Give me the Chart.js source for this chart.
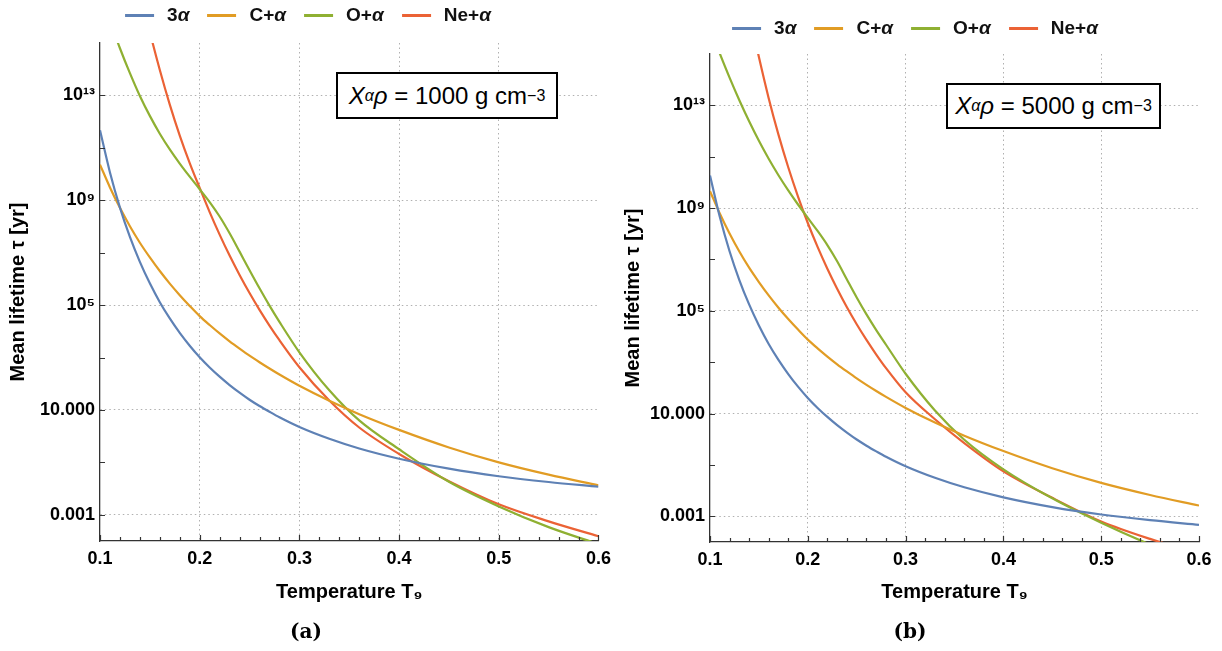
<!DOCTYPE html>
<html>
<head>
<meta charset="utf-8">
<title>Mean lifetime vs temperature</title>
<script src="https://cdn.jsdelivr.net/npm/chart.js@4.4.1/dist/chart.umd.min.js"></script>
<style>
  html, body { margin: 0; padding: 0; background: #fff; }
  body {
    width: 1222px; height: 651px; position: relative; overflow: hidden;
    font-family: "Liberation Sans", Arial, "DejaVu Sans", sans-serif;
  }
  .panel { position: absolute; top: 0; height: 651px; }
  .legend {
    position: absolute; display: flex; align-items: center; gap: 18px;
    font-weight: bold; font-size: 19px; color: #111; white-space: nowrap;
    transform: translate(-50%, -50%);
  }
  .legend .item { display: flex; align-items: center; }
  .legend .swatch { display: inline-block; width: 29px; height: 3px; margin-right: 13px; }
  .note {
    position: absolute; border: 2px solid #000; background: #fff; box-sizing: border-box;
    font-size: 24px; color: #000; display: flex; align-items: center; justify-content: center;
    white-space: nowrap;
  }
  .note sub { font-size: 16px; vertical-align: -5px; }
  .note sup { font-size: 16px; vertical-align: 9px; }
</style>
</head>
<body>
<div class="panel" style="left:0; width:618px"><canvas id="chartA"></canvas></div>
<div class="panel" style="left:611px; width:611px"><canvas id="chartB"></canvas></div>
<div class="legend" id="legendA" style="left:308px; top:15px"></div>
<div class="legend" id="legendB" style="left:915px; top:28px"></div>
<div class="note" id="noteA" style="left:336px; top:72px; width:222px; height:47px"></div>
<div class="note" id="noteB" style="left:946px; top:83px; width:215px; height:46px"></div>

<script>
// 温度 T9
const temps = [0.10, 0.11, 0.12, 0.13, 0.14, 0.15, 0.16, 0.17, 0.18, 0.19, 0.20,
               0.21, 0.22, 0.23, 0.24, 0.25, 0.26, 0.27, 0.28,
               0.30, 0.33, 0.36, 0.40, 0.45, 0.50, 0.55, 0.60];

const seriesNames = ['3α', 'C+α', 'O+α', 'Ne+α'];
const seriesColors = ['#5e81b5', '#e19c24', '#8fb032', '#eb6235'];

// log10(tau / yr), panel (a): X_alpha rho = 1000 g cm^-3
const tauA3a  = [11.67, 10.06, 8.72, 7.60, 6.65, 5.83, 5.11, 4.49, 3.94, 3.45, 3.01,
                 2.62, 2.27, 1.95, 1.66, 1.39, 1.15, 0.93, 0.72,
                 0.35, -0.10, -0.47, -0.86, -1.24, -1.53, -1.75, -1.93];
const tauACa  = [10.36, 9.49, 8.71, 8.01, 7.38, 6.82, 6.30, 5.82, 5.38, 4.97, 4.58,
                 4.24, 3.92, 3.62, 3.34, 3.07, 2.82, 2.58, 2.35,
                 1.92, 1.35, 0.84, 0.24, -0.43, -1.00, -1.47, -1.88];
const tauAOa  = [17.0, 15.85, 14.80, 13.85, 12.98, 12.22, 11.54, 10.94, 10.40, 9.90, 9.42,
                 8.93, 8.38, 7.74, 7.04, 6.33, 5.64, 4.98, 4.36,
                 3.20, 1.75, 0.60, -0.50, -1.74, -2.68, -3.47, -4.12];
const tauANea = [null, null, null, null, 17.0, 15.42, 13.97, 12.65, 11.47, 10.42, 9.47,
                 8.55, 7.69, 6.89, 6.15, 5.46, 4.82, 4.22, 3.66,
                 2.63, 1.36, 0.33, -0.68, -1.72, -2.60, -3.25, -3.82];

// log10(tau / yr), panel (b): X_alpha rho = 5000 g cm^-3
const tauB3a  = [10.27, 8.66, 7.32, 6.20, 5.25, 4.43, 3.71, 3.09, 2.54, 2.05, 1.61,
                 1.22, 0.87, 0.55, 0.26, -0.01, -0.25, -0.47, -0.68,
                 -1.05, -1.50, -1.87, -2.26, -2.64, -2.93, -3.15, -3.33];
const tauBCa  = [9.66, 8.79, 8.01, 7.31, 6.68, 6.12, 5.60, 5.12, 4.68, 4.27, 3.88,
                 3.54, 3.22, 2.92, 2.64, 2.37, 2.12, 1.88, 1.65,
                 1.22, 0.65, 0.14, -0.46, -1.13, -1.70, -2.17, -2.58];
const tauBOa  = [16.0, 15.02, 14.08, 13.20, 12.38, 11.62, 10.92, 10.28, 9.69, 9.14, 8.62,
                 8.11, 7.56, 6.93, 6.22, 5.52, 4.86, 4.25, 3.68,
                 2.55, 1.12, -0.02, -1.17, -2.30, -3.25, -4.10, -4.85];
const tauBNea = [null, null, null, null, 16.6, 14.88, 13.28, 11.86, 10.59, 9.45, 8.42,
                 7.49, 6.64, 5.86, 5.14, 4.48, 3.87, 3.30, 2.77,
                 1.83, 0.78, -0.15, -1.25, -2.28, -3.20, -3.88, -4.45];

const xTicks = [0.1, 0.2, 0.3, 0.4, 0.5, 0.6];
const xTickLabels = ['0.1', '0.2', '0.3', '0.4', '0.5', '0.6'];
const yTicks = [1e-3, 1e1, 1e5, 1e9, 1e13];
const yTickLabels = ['0.001', '10.000', '10⁵', '10⁹', '10¹³'];
const yMinorTicks = [1e-1, 1e3, 1e7, 1e11];

const densities = [1000, 5000];
const panelLabels = ['(a)', '(b)'];

const sansFont = '"Liberation Sans", Arial, "DejaVu Sans", sans-serif';

// 轴内侧的小刻度线
const innerTicks = {
    id: 'innerTicks',
    afterDraw(chart) {
        const { ctx, chartArea, scales: { x, y } } = chart;
        ctx.save();
        ctx.strokeStyle = '#333';
        ctx.lineWidth = 1.2;
        ctx.beginPath();
        for (let i = 0; i <= 25; i++) {
            const px = Math.round(x.getPixelForValue(0.1 + i * 0.02)) + 0.5;
            const len = i % 5 === 0 ? 6 : 4;
            ctx.moveTo(px, chartArea.bottom);
            ctx.lineTo(px, chartArea.bottom - len);
        }
        yTicks.concat(yMinorTicks).forEach(v => {
            const py = Math.round(y.getPixelForValue(v)) + 0.5;
            ctx.moveTo(chartArea.left, py);
            ctx.lineTo(chartArea.left + 5, py);
        });
        ctx.stroke();
        ctx.restore();
    }
};

function toPoints(arr) {
    return temps.map((t, i) => ({ x: t, y: arr[i] === null ? null : Math.pow(10, arr[i]) }));
}

function buildDatasets(list) {
    return list.map((arr, i) => ({
        label: seriesNames[i],
        data: toPoints(arr),
        borderColor: seriesColors[i],
        backgroundColor: seriesColors[i],
        borderWidth: 2.2,
        pointRadius: 0,
        fill: false,
        cubicInterpolationMode: 'monotone',
        spanGaps: false
    }));
}

function makeChart(id, datasets, cfg) {
    const ctx = document.getElementById(id).getContext('2d');
    return new Chart(ctx, {
        type: 'line',
        data: { datasets },
        options: {
            responsive: true,
            maintainAspectRatio: false,
            animation: false,
            layout: { padding: { left: cfg.padLeft, top: cfg.padTop, right: cfg.padRight, bottom: 0 } },
            plugins: {
                legend: { display: false },
                tooltip: { enabled: false },
                title: {
                    display: true,
                    text: cfg.caption,
                    position: 'bottom',
                    color: '#000',
                    font: { family: '"DejaVu Serif", "Liberation Serif", serif', size: 20, weight: 'bold' },
                    padding: { top: 10, bottom: 6 }
                }
            },
            scales: {
                x: {
                    type: 'linear',
                    min: 0.1,
                    max: 0.6,
                    afterBuildTicks: s => { s.ticks = xTicks.map(v => ({ value: v })); },
                    afterFit: s => { s.height = cfg.xHeight; },
                    ticks: {
                        autoSkip: false,
                        maxRotation: 0,
                        padding: 7,
                        color: '#000',
                        font: { family: sansFont, size: 18, weight: 'bold' },
                        callback: (v, i) => xTickLabels[i]
                    },
                    grid: {
                        drawTicks: false,
                        lineWidth: 1,
                        color: c => (c.tick && (c.tick.value === 0.1 || c.tick.value === 0.6)) ? 'rgba(0,0,0,0)' : '#b0b0b0'
                    },
                    border: { display: true, color: '#333', width: 1.3, dash: [1.5, 3] },
                    title: {
                        display: true,
                        text: 'Temperature T₉',
                        color: '#000',
                        font: { family: sansFont, size: 20, weight: 'bold' },
                        padding: { top: 0, bottom: 7 }
                    }
                },
                y: {
                    type: 'logarithmic',
                    min: 1e-4,
                    max: 1e15,
                    afterBuildTicks: s => {
                        s.ticks = yTicks.concat(yMinorTicks).sort((a, b) => a - b).map(v => ({ value: v }));
                    },
                    afterFit: s => { s.width = cfg.yWidth; },
                    ticks: {
                        autoSkip: false,
                        padding: 5,
                        color: '#000',
                        font: { family: sansFont, size: 18, weight: 'bold' },
                        callback: v => {
                            const k = yTicks.indexOf(v);
                            return k >= 0 ? yTickLabels[k] : '';
                        }
                    },
                    grid: {
                        drawTicks: false,
                        lineWidth: 1,
                        color: c => (c.tick && yTicks.includes(c.tick.value)) ? '#b0b0b0' : 'rgba(0,0,0,0)'
                    },
                    border: { display: true, color: '#333', width: 1.3, dash: [1.5, 3] },
                    title: {
                        display: true,
                        text: 'Mean lifetime τ [yr]',
                        color: '#000',
                        font: { family: sansFont, size: 20, weight: 'bold' },
                        padding: { top: 0, bottom: 0 }
                    }
                }
            }
        },
        plugins: [innerTicks]
    });
}

// 手写图例
function fillLegend(id) {
    const box = document.getElementById(id);
    seriesNames.forEach((name, i) => {
        const item = document.createElement('span');
        item.className = 'item';
        const sw = document.createElement('i');
        sw.className = 'swatch';
        sw.style.background = seriesColors[i];
        item.appendChild(sw);
        const txt = document.createElement('span');
        txt.innerHTML = name.replace('α', '<i>α</i>');
        item.appendChild(txt);
        box.appendChild(item);
    });
}

function fillNote(id, rho) {
    document.getElementById(id).innerHTML =
        '<i>X</i><sub><i>α</i></sub><i>ρ</i>&nbsp;= ' + rho + ' g cm<sup>−3</sup>';
}

fillLegend('legendA');
fillLegend('legendB');
fillNote('noteA', densities[0]);
fillNote('noteB', densities[1]);

makeChart('chartA', buildDatasets([tauA3a, tauACa, tauAOa, tauANea]),
    { padLeft: 6, padTop: 43, padRight: 12, yWidth: 94, xHeight: 70, caption: panelLabels[0] });
makeChart('chartB', buildDatasets([tauB3a, tauBCa, tauBOa, tauBNea]),
    { padLeft: 10, padTop: 54, padRight: 23, yWidth: 89, xHeight: 69, caption: panelLabels[1] });
</script>
</body>
</html>
